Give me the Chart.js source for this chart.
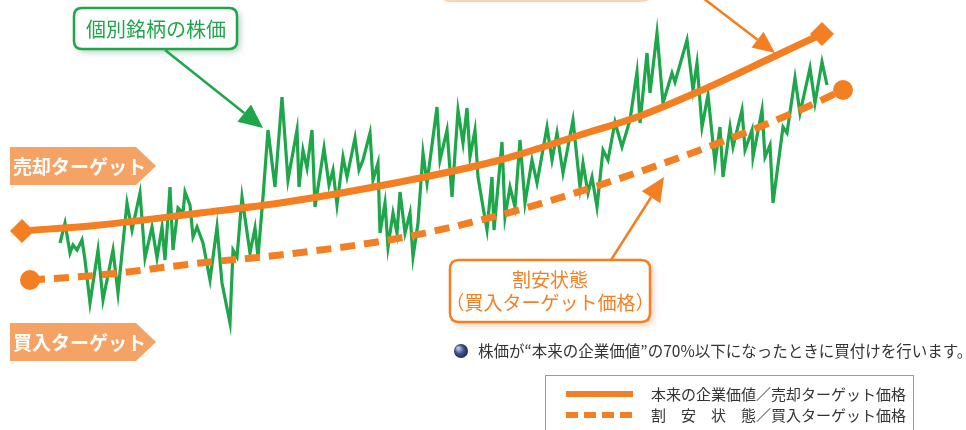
<!DOCTYPE html>
<html><head><meta charset="utf-8">
<script src="https://cdn.jsdelivr.net/npm/chart.js@4/dist/chart.umd.min.js"></script>
<style>html,body{margin:0;padding:0;background:#fff;}#wrap{width:966px;height:430px;position:relative;}</style>
</head><body><div id="wrap"><canvas id="c" width="966" height="430"></canvas></div>
<script>
// time index (horizontal) and price level (vertical)
const stockT = [60,65,70,73,77,82,85,90,98,103,113,118,127,132,140,145,152,157,162,165,170,173,178,183,185,190,193,197,203,210,217,222,230,233,237,242,250,255,258,263,268,275,282,288,297,299,303,307,312,315,324,329,333,337,343,347,355,359,363,370,373,378,380,385,388,393,397,400,405,410,413,418,423,427,437,440,447,452,458,463,467,470,475,478,483,487,492,494,502,505,510,515,520,525,532,537,547,552,557,563,573,580,583,588,592,597,603,608,615,622,630,637,640,647,650,657,663,672,675,687,693,697,702,708,715,720,723,730,733,742,745,752,753,762,765,770,773,783,787,795,800,810,815,822,827];
const stockPrice = [187,207,177,185,180,190,170,127,180,130,180,137,227,200,237,172,203,172,203,170,243,180,222,217,238,225,193,203,187,150,203,147,107,180,173,233,177,202,173,233,300,243,333,250,300,243,280,262,300,223,282,245,260,225,273,253,292,260,270,297,250,267,197,227,183,217,197,238,197,217,173,207,277,247,323,270,300,233,320,287,322,273,300,253,223,200,253,200,288,213,243,223,290,227,270,247,303,270,297,257,310,243,267,237,253,223,280,270,308,283,310,358,307,377,337,397,327,357,348,390,340,367,303,335,267,303,253,303,283,320,280,300,273,320,273,285,227,303,297,352,317,362,327,368,345];
const valueT = [22,100,200,280,400,500,580,640,700,773,822];
const valuePrice = [199,205,217,227,248,270,295,314,339,373,396];
const buyT = [30,100,200,280,400,500,600,700,800,843];
const buyPrice = [150,155,167,175,192,215,245,280,320,340];

const ORANGE = '#F37F22';
const GREEN = '#1DA64A';
const LABEL = '#F5A364';
const JP = '"Noto Sans CJK JP", "Noto Sans", sans-serif';

function pts(xs, ys){ return xs.map((x,i)=>({x:x,y:ys[i]})); }

function roundRect(ctx,x,y,w,h,r){
  ctx.beginPath();
  ctx.moveTo(x+r,y);ctx.lineTo(x+w-r,y);ctx.quadraticCurveTo(x+w,y,x+w,y+r);
  ctx.lineTo(x+w,y+h-r);ctx.quadraticCurveTo(x+w,y+h,x+w-r,y+h);
  ctx.lineTo(x+r,y+h);ctx.quadraticCurveTo(x,y+h,x,y+h-r);
  ctx.lineTo(x,y+r);ctx.quadraticCurveTo(x,y,x+r,y);ctx.closePath();
}
function arrow(ctx,x1,y1,x2,y2,color,lw,head,hw){
  const a=Math.atan2(y2-y1,x2-x1);
  const bx=x2-head*Math.cos(a), by=y2-head*Math.sin(a);
  ctx.save();ctx.strokeStyle=color;ctx.fillStyle=color;ctx.lineWidth=lw;
  ctx.beginPath();ctx.moveTo(x1,y1);ctx.lineTo(bx,by);ctx.stroke();
  ctx.beginPath();ctx.moveTo(x2,y2);
  ctx.lineTo(bx+hw*Math.sin(a),by-hw*Math.cos(a));
  ctx.lineTo(bx-hw*Math.sin(a),by+hw*Math.cos(a));ctx.closePath();ctx.fill();
  ctx.restore();
}
function pentagon(ctx,x,y,w,tip,h,text){
  ctx.save();ctx.fillStyle=LABEL;
  ctx.beginPath();ctx.moveTo(x,y);ctx.lineTo(x+w,y);ctx.lineTo(x+w+tip,y+h/2);
  ctx.lineTo(x+w,y+h);ctx.lineTo(x,y+h);ctx.closePath();ctx.fill();
  ctx.fillStyle='#fff';ctx.font='bold 19px '+JP;ctx.textBaseline='middle';ctx.textAlign='left';
  ctx.fillText(text,x+3,y+h/2+1);ctx.restore();
}

const deco = {
  id:'deco',
  afterDatasetsDraw(chart){
    const ctx=chart.ctx;
    // top orange callout (mostly above the picture)
    ctx.save();ctx.strokeStyle=ORANGE;ctx.lineWidth=2;ctx.globalAlpha=0.35;
    roundRect(ctx,442,-60,208,61,8);ctx.stroke();ctx.restore();
    arrow(ctx,703,-2,775,53,ORANGE,2.5,22,10);

    // green callout
    ctx.save();ctx.shadowColor='rgba(30,120,60,0.35)';ctx.shadowBlur=6;ctx.shadowOffsetX=3;ctx.shadowOffsetY=3;
    ctx.fillStyle='#fff';roundRect(ctx,74,8,163,41,8);ctx.fill();ctx.restore();
    ctx.save();ctx.strokeStyle=GREEN;ctx.lineWidth=2.5;roundRect(ctx,74,8,163,41,8);ctx.stroke();
    ctx.fillStyle=GREEN;ctx.font='20px '+JP;ctx.textAlign='center';ctx.textBaseline='middle';
    ctx.fillText('個別銘柄の株価',156,29);ctx.restore();
    arrow(ctx,165,50,263,128,GREEN,2.5,24,11);

    // side labels
    pentagon(ctx,10,147,126,20,38,'売却ターゲット');
    pentagon(ctx,10,323,126,20,38,'買入ターゲット');

    // orange callout
    arrow(ctx,611,260,664,177,ORANGE,2.5,24,11);
    ctx.save();ctx.shadowColor='rgba(200,100,30,0.35)';ctx.shadowBlur=6;ctx.shadowOffsetX=3;ctx.shadowOffsetY=3;
    ctx.fillStyle='#fff';roundRect(ctx,450,260,200,62,9);ctx.fill();ctx.restore();
    ctx.save();ctx.strokeStyle=ORANGE;ctx.lineWidth=2.5;roundRect(ctx,450,260,200,62,9);ctx.stroke();
    ctx.fillStyle=ORANGE;ctx.font='19px '+JP;ctx.textAlign='center';ctx.textBaseline='middle';
    ctx.fillText('割安状態',550,280);ctx.fillText('（買入ターゲット価格）',550,303);ctx.restore();

    // bullet note
    ctx.save();
    const g=ctx.createRadialGradient(458,348,1,461,351,8);
    g.addColorStop(0,'#b8c4e0');g.addColorStop(0.5,'#3d4f8a');g.addColorStop(1,'#16204a');
    ctx.fillStyle=g;ctx.beginPath();ctx.arc(461,351,7,0,Math.PI*2);ctx.fill();
    ctx.fillStyle='#333';ctx.font='15.5px '+JP;ctx.textBaseline='middle';ctx.textAlign='left';
    ctx.fillText('株価が“本来の企業価値”の70%以下になったときに買付けを行います。',478,351);
    ctx.restore();

    // legend box
    ctx.save();ctx.strokeStyle='#8e9cab';ctx.lineWidth=1;ctx.strokeRect(545.5,375.5,368,60);
    ctx.strokeStyle=ORANGE;ctx.lineWidth=6;
    ctx.beginPath();ctx.moveTo(566,394);ctx.lineTo(633,394);ctx.stroke();
    ctx.setLineDash([12,6]);ctx.beginPath();ctx.moveTo(566,415);ctx.lineTo(633,415);ctx.stroke();
    ctx.setLineDash([]);
    ctx.fillStyle='#333';ctx.font='15px '+JP;ctx.textBaseline='middle';ctx.textAlign='left';
    ctx.fillText('本来の企業価値／売却ターゲット価格',651,394);
    ctx.fillText('割　安　状　態／買入ターゲット価格',651,415);
    ctx.restore();
  }
};

new Chart(document.getElementById('c'),{
  type:'line',
  data:{datasets:[
    {label:'個別銘柄の株価',data:pts(stockT,stockPrice),borderColor:GREEN,borderWidth:3.2,pointRadius:0,tension:0,borderJoinStyle:'miter',order:3},
    {label:'本来の企業価値／売却ターゲット価格',data:pts(valueT,valuePrice),borderColor:ORANGE,borderWidth:7,cubicInterpolationMode:'monotone',
      pointStyle:'rectRot',pointRadius:(c)=> (c.dataIndex===0||c.dataIndex===valueT.length-1)?12:0,pointBackgroundColor:ORANGE,pointBorderWidth:0,order:1},
    {label:'割安状態／買入ターゲット価格',data:pts(buyT,buyPrice),borderColor:ORANGE,borderWidth:7,borderDash:[15,9],cubicInterpolationMode:'monotone',
      pointStyle:'circle',pointRadius:(c)=> (c.dataIndex===0||c.dataIndex===buyT.length-1)?10:0,pointBackgroundColor:ORANGE,pointBorderWidth:0,order:2}
  ]},
  options:{
    responsive:false,animation:false,
    layout:{padding:0,autoPadding:false},
    plugins:{legend:{display:false},tooltip:{enabled:false}},
    scales:{
      x:{type:'linear',min:0,max:966,display:false},
      y:{type:'linear',min:0,max:430,display:false}
    }
  },
  plugins:[deco]
});
</script></body></html>
